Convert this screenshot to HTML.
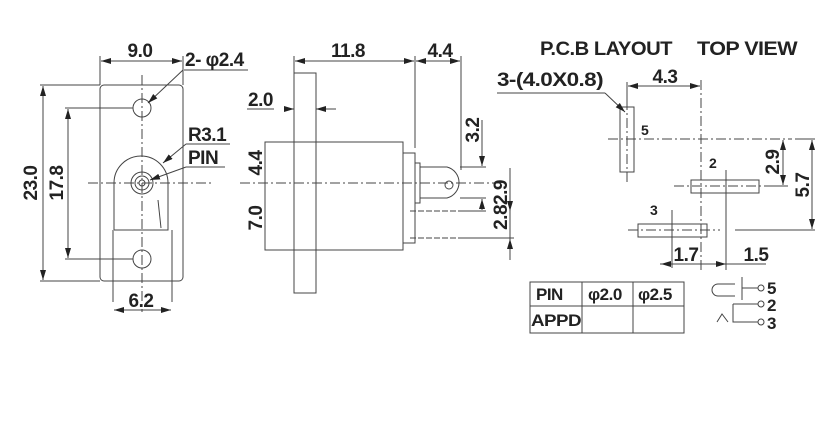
<!DOCTYPE html>
<html><head><style>
html,body{margin:0;padding:0;background:#fff;width:831px;height:421px;overflow:hidden}
text{font-family:"Liberation Sans",Arial,sans-serif;font-weight:bold;fill:#222}
</style></head><body>
<svg width="831" height="421" viewBox="0 0 831 421" xmlns="http://www.w3.org/2000/svg">
<defs>
<marker id="a" viewBox="0 0 10 6" refX="10" refY="3" markerWidth="10" markerHeight="6" orient="auto-start-reverse" markerUnits="userSpaceOnUse"><path d="M0,0 L10,3 L0,6z" fill="#222"/></marker>
</defs>
<g fill="none" stroke="#444" stroke-width="1">
<rect x="100" y="85" width="83" height="196" rx="4"/>
<circle cx="142" cy="108" r="9"/>
<circle cx="142" cy="259" r="9"/>
<circle cx="142" cy="183" r="11"/><circle cx="142" cy="183" r="7"/><circle cx="142" cy="183" r="3"/>
<path d="M114,230 V183 A27,27 0 0 1 168,183 V230 H114"/>
<line x1="158" y1="200" x2="161" y2="228"/>
<path d="M113,230 V302 M172,230 V302"/>
<g stroke-dasharray="10,3,2,3"><line x1="88" y1="183" x2="214" y2="183"/><line x1="142" y1="75" x2="142" y2="312"/></g>
<path d="M100,85 V56 M183,85 V56"/>
<line x1="101" y1="61" x2="182" y2="61" marker-start="url(#a)" marker-end="url(#a)"/>
<path d="M40,85 H100 M40,281 H100 M65,108 H133 M65,259 H133"/>
<line x1="43" y1="86" x2="43" y2="280" marker-start="url(#a)" marker-end="url(#a)"/>
<line x1="68" y1="109" x2="68" y2="258" marker-start="url(#a)" marker-end="url(#a)"/>
<line x1="114" y1="310" x2="171" y2="310" marker-start="url(#a)" marker-end="url(#a)"/>
<path d="M184,70 H248"/><line x1="183" y1="70" x2="148" y2="103" marker-end="url(#a)"/>
<path d="M186,144 H230"/><line x1="186" y1="144" x2="163" y2="163" marker-end="url(#a)"/>
<path d="M186,167 H225"/><line x1="186" y1="167" x2="150" y2="180" marker-end="url(#a)"/>
<rect x="294" y="73" width="22" height="220"/>
<rect x="265" y="142" width="138" height="108"/>
<rect x="403" y="153" width="12" height="90"/>
<rect x="415" y="163" width="5" height="40"/>
<path d="M420,167 H447 A16,16 0 0 1 447,198 H420"/>
<circle cx="449" cy="185" r="4"/>
<g stroke-dasharray="6,2"><line x1="410" y1="211" x2="462" y2="211"/><line x1="410" y1="238" x2="462" y2="238"/></g>
<line x1="240" y1="183" x2="500" y2="183" stroke-dasharray="10,3,2,3"/>
<path d="M294,73 V56 M415,148 V56 M461,170 V56"/>
<line x1="295" y1="61" x2="414" y2="61" marker-start="url(#a)" marker-end="url(#a)"/>
<line x1="416" y1="61" x2="460" y2="61" marker-start="url(#a)" marker-end="url(#a)"/>
<path d="M247,109 H274"/>
<line x1="284" y1="109" x2="294" y2="109" marker-end="url(#a)"/>
<line x1="336" y1="109" x2="316" y2="109" marker-end="url(#a)"/>
<line x1="265" y1="142" x2="265" y2="250"/>
<path d="M460,167 H486 M460,198 H486 M462,211 H486 M462,238 H514"/>
<line x1="482" y1="120" x2="482" y2="166" marker-end="url(#a)"/>
<line x1="482" y1="199" x2="482" y2="210" marker-start="url(#a)"/>
<line x1="510" y1="168" x2="510" y2="260"/>
<line x1="510" y1="200" x2="510" y2="211" marker-end="url(#a)"/>
<line x1="510" y1="250" x2="510" y2="239" marker-end="url(#a)"/>
<rect x="620" y="107" width="14" height="65"/>
<rect x="691" y="180" width="68" height="13"/>
<rect x="638" y="224" width="69" height="13"/>
<g stroke-dasharray="10,3,2,3">
<line x1="701" y1="80" x2="701" y2="272"/>
<line x1="608" y1="139" x2="792" y2="139"/>
<line x1="627" y1="100" x2="627" y2="185"/>
<line x1="674" y1="186" x2="765" y2="186"/>
<line x1="628" y1="230" x2="720" y2="230"/>
</g>
<path d="M726,170 V270 M672,210 V268 M627,100 V82 M735,230 H815 M765,186 H788 M795,139 H815"/>
<line x1="628" y1="86" x2="700" y2="86" marker-start="url(#a)" marker-end="url(#a)"/>
<path d="M497,93 H605"/><line x1="605" y1="93" x2="625" y2="112" marker-end="url(#a)"/>
<line x1="783" y1="140" x2="783" y2="185" marker-start="url(#a)" marker-end="url(#a)"/>
<line x1="812" y1="140" x2="812" y2="229" marker-start="url(#a)" marker-end="url(#a)"/>
<path d="M660,264 H766"/>
<line x1="661" y1="264" x2="672" y2="264" marker-start="url(#a)"/>
<line x1="716" y1="264" x2="726" y2="264" marker-end="url(#a)"/>
<rect x="530" y="282" width="154" height="51"/>
<path d="M530,306 H684 M582,282 V333 M633,282 V333"/>
<path d="M735,284 H718 A6,6 0 0 0 718,296 H735 M742,277 V300 M742,288 H758 M733,304 V322 H758 M733,304 H758 M717,322 L722,314 L728,322"/>
<circle cx="761" cy="288" r="3"/><circle cx="761" cy="304" r="3"/><circle cx="761" cy="322" r="3"/>
</g>
<g font-size="19" letter-spacing="-0.5">
<text x="140" y="57" text-anchor="middle">9.0</text>
<text x="185" y="66">2- φ2.4</text>
<text x="188" y="141">R3.1</text>
<text x="188" y="164">PIN</text>
<text x="141" y="307" text-anchor="middle">6.2</text>
<text transform="translate(37,183) rotate(-90)" text-anchor="middle">23.0</text>
<text transform="translate(63,183) rotate(-90)" text-anchor="middle">17.8</text>
<text x="348" y="57" text-anchor="middle">11.8</text>
<text x="440" y="57" text-anchor="middle">4.4</text>
<text x="248" y="106">2.0</text>
<text transform="translate(262,163) rotate(-90)" text-anchor="middle">4.4</text>
<text transform="translate(262,218) rotate(-90)" text-anchor="middle">7.0</text>
<text transform="translate(479,130) rotate(-90)" text-anchor="middle">3.2</text>
<text transform="translate(507,205) rotate(-90)" text-anchor="middle">2.82.9</text>
<text x="540" y="55" textLength="132" lengthAdjust="spacingAndGlyphs">P.C.B LAYOUT</text>
<text x="697" y="55" textLength="100" lengthAdjust="spacingAndGlyphs">TOP VIEW</text>
<text x="497" y="86" textLength="106" lengthAdjust="spacingAndGlyphs">3-(4.0X0.8)</text>
<text x="665" y="83" text-anchor="middle">4.3</text>
<text transform="translate(779,162) rotate(-90)" text-anchor="middle">2.9</text>
<text transform="translate(809,185) rotate(-90)" text-anchor="middle">5.7</text>
<text x="686" y="261" text-anchor="middle">1.7</text>
<text x="756" y="261" text-anchor="middle">1.5</text>
</g>
<g font-size="17" letter-spacing="-0.5">
<text x="536" y="300">PIN</text>
<text x="588" y="300">φ2.0</text>
<text x="638" y="300">φ2.5</text>
<text x="531" y="326" textLength="50" lengthAdjust="spacingAndGlyphs">APPD</text>
<text x="767" y="294">5</text>
<text x="767" y="311">2</text>
<text x="767" y="329">3</text>
</g>
<g font-size="14"><text x="641" y="135">5</text><text x="709" y="168">2</text><text x="650" y="215">3</text></g>
</svg>
</body></html>
